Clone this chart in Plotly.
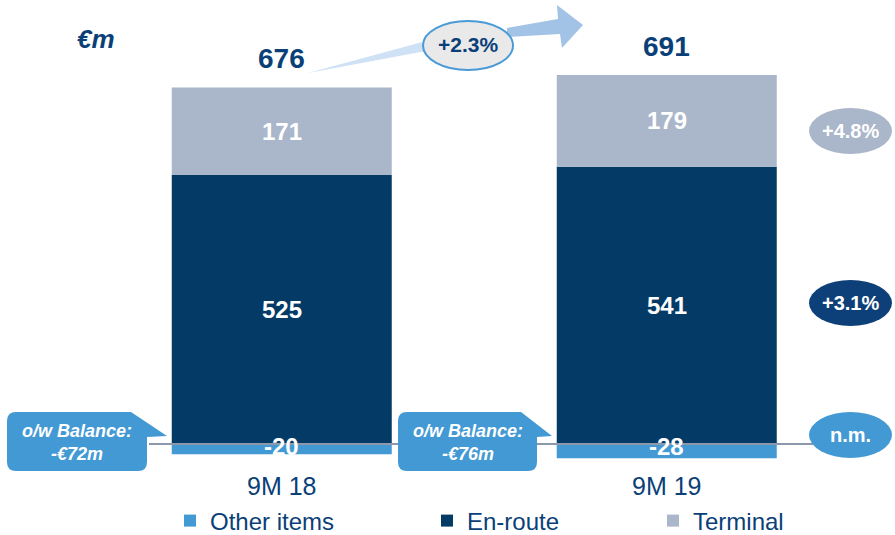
import plotly.graph_objects as go

# ---------------- data ----------------
categories = ["9M 18", "9M 19"]
other_items = [-20, -28]
en_route = [525, 541]
terminal = [171, 179]
totals = [676, 691]
growth_total = "+2.3%"
growth_labels = ["+4.8%", "+3.1%", "n.m."]          # terminal, en-route, other
balance_notes = ["o/w Balance:<br>-€72m", "o/w Balance:<br>-€76m"]
unit_label = "€m"

# ---------------- style ----------------
W, H = 895, 535
ML, MR, MT, MB = 70, 35, 30, 66
FONT = "Liberation Sans, Arial, sans-serif"
C_TERM = "#aab6ca"
C_ENR = "#033a66"
C_OTH = "#4299d3"
C_TXT = "#0b3f78"
C_LINE = "#8c98ac"

PW, PH = W - ML - MR, H - MT - MB
Y_MIN, Y_MAX = -48.8, 808
X_MIN = -0.55
X_MAX = X_MIN + PW / 385.0


def px(x):
    return (x - ML) / PW


def py(y):
    return (H - MB - y) / PH


def path(points):
    return "M" + " L".join(f"{px(x):.5f},{py(y):.5f}" for x, y in points) + " Z"


def rounded_callout(x0, y0, x1, y1, r, tip):
    s = f"M{px(x0 + r):.5f},{py(y0):.5f}"
    s += f" L{px(x1 - r - 7):.5f},{py(y0):.5f}"
    s += f" L{px(tip[0]):.5f},{py(tip[1]):.5f}"
    s += f" L{px(x1):.5f},{py(tip[1] + 1):.5f}"
    s += f" L{px(x1):.5f},{py(y1 - r):.5f}"
    s += f" Q{px(x1):.5f},{py(y1):.5f} {px(x1 - r):.5f},{py(y1):.5f}"
    s += f" L{px(x0 + r):.5f},{py(y1):.5f}"
    s += f" Q{px(x0):.5f},{py(y1):.5f} {px(x0):.5f},{py(y1 - r):.5f}"
    s += f" L{px(x0):.5f},{py(y0 + r):.5f}"
    s += f" Q{px(x0):.5f},{py(y0):.5f} {px(x0 + r):.5f},{py(y0):.5f} Z"
    return s


fig = go.Figure()
bar_w = 220 / 385
fig.add_trace(go.Bar(x=categories, y=other_items, name="Other items", marker=dict(color=C_OTH, line_width=0),
                     width=bar_w, legend="legend"))
fig.add_trace(go.Bar(x=categories, y=en_route, name="En-route", marker=dict(color=C_ENR, line_width=0),
                     width=bar_w, legend="legend2"))
fig.add_trace(go.Bar(x=categories, y=terminal, name="Terminal", marker=dict(color=C_TERM, line_width=0),
                     width=bar_w, legend="legend3"))

shapes = []
ann = []

# baseline line
shapes.append(dict(type="line", xref="paper", yref="y", x0=px(149), x1=px(813), y0=0, y1=0,
                   line=dict(color=C_LINE, width=2), layer="above"))

# segment labels
for i, c in enumerate(categories):
    ann.append(dict(x=c, y=en_route[i] / 2, text=f"<b>{en_route[i]}</b>", showarrow=False,
                    font=dict(family=FONT, size=24, color="white")))
    ann.append(dict(x=c, y=en_route[i] + terminal[i] / 2, text=f"<b>{terminal[i]}</b>", showarrow=False,
                    font=dict(family=FONT, size=24, color="white")))
    ann.append(dict(x=c, y=0, yshift=-2, text=f"<b>{other_items[i]}</b>", showarrow=False,
                    font=dict(family=FONT, size=24, color="white")))
    ann.append(dict(x=c, y=en_route[i] + terminal[i], yanchor="bottom", yshift=11,
                    text=f"<b>{totals[i]}</b>", showarrow=False,
                    font=dict(family=FONT, size=28, color=C_TXT)))


def pann(x, y, text, size, color):
    ann.append(dict(xref="paper", yref="paper", x=px(x), y=py(y), xanchor="center", yanchor="middle",
                    text=text, showarrow=False, font=dict(family=FONT, size=size, color=color)))


# wedge from 676 to ellipse
shapes.append(dict(type="path", xref="paper", yref="paper",
                   path=path([(308, 73), (426, 41), (426, 51)]),
                   fillcolor="#cfe1f5", line=dict(width=0), layer="above"))
# arrow
shapes.append(dict(type="path", xref="paper", yref="paper",
                   path=path([(507, 28), (558, 19), (557, 5), (583, 25), (562, 48), (560, 34), (507, 37)]),
                   fillcolor="#a3c3e6", line=dict(width=0), layer="above"))
# +2.3% ellipse
shapes.append(dict(type="circle", xref="paper", yref="paper",
                   x0=px(423), x1=px(513), y0=py(70), y1=py(21),
                   fillcolor="#e9e9ea", line=dict(color="#4a9ad6", width=2), layer="above"))
pann(468, 45, f"<b>{growth_total}</b>", 21, C_TXT)

# growth ellipses on the right
ell = [(131, C_TERM), (303, "#0d3f78"), (435, C_OTH)]
for (cy, col), lab in zip(ell, growth_labels):
    shapes.append(dict(type="circle", xref="paper", yref="paper",
                       x0=px(809), x1=px(892), y0=py(cy + 23), y1=py(cy - 23),
                       fillcolor=col, line=dict(width=0), layer="above"))
    pann(850.5, cy, f"<b>{lab}</b>", 20, "white")

# balance callouts
for (x0, x1, tip), note in zip([(7, 147, (167, 436)), (398, 537, (552, 436))], balance_notes):
    shapes.append(dict(type="path", xref="paper", yref="paper",
                       path=rounded_callout(x0, 412, x1, 471, 9, tip),
                       fillcolor=C_OTH, line=dict(width=0), layer="above"))
    pann((x0 + x1) / 2, 442, f"<b><i>{note}</i></b>", 18, "white")

# unit label
pann(96, 39, f"<b><i>{unit_label}</i></b>", 26, C_TXT)

leg_common = dict(orientation="h", xref="container", yref="container", yanchor="middle",
                  y=14 / H, font=dict(family=FONT, size=24, color=C_TXT),
                  bgcolor="rgba(0,0,0,0)", itemclick=False, itemdoubleclick=False)

fig.update_layout(
    width=W, height=H,
    margin=dict(l=ML, r=MR, t=MT, b=MB, autoexpand=False),
    paper_bgcolor="white", plot_bgcolor="white",
    barmode="relative",
    showlegend=True,
    xaxis=dict(range=[X_MIN, X_MAX], showgrid=False, zeroline=False, showline=False, ticks="",
               automargin=False,
               tickfont=dict(family=FONT, size=25, color=C_TXT), fixedrange=True),
    yaxis=dict(range=[Y_MIN, Y_MAX], visible=False, fixedrange=True, automargin=False),
    legend=dict(x=(188 - 18) / W, **leg_common),
    legend2=dict(x=(445 - 18) / W, **leg_common),
    legend3=dict(x=(671 - 18) / W, **leg_common),
    shapes=shapes,
    annotations=ann,
)

fig.write_html("out.html", config={"displayModeBar": False},
               post_script="document.body.style.margin='0';")
